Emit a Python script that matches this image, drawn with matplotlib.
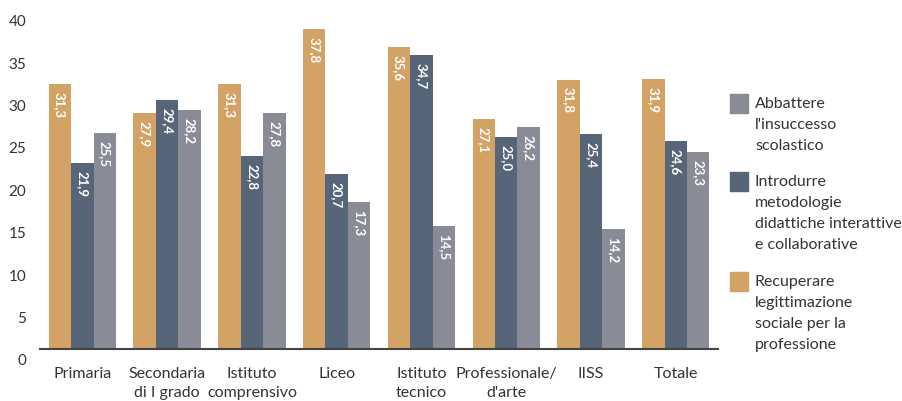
import matplotlib.pyplot as plt
import matplotlib.transforms as mtransforms
from matplotlib.patches import Rectangle
import numpy as np

plt.rcParams['font.family'] = ['Lato', 'DejaVu Sans']

categories = ["Primaria", "Secondaria\ndi I grado", "Istituto\ncomprensivo", "Liceo",
              "Istituto\ntecnico", "Professionale/\nd'arte", "IISS", "Totale"]
recuperare = [31.3, 27.9, 31.3, 37.8, 35.6, 27.1, 31.8, 31.9]
introdurre = [21.9, 29.4, 22.8, 20.7, 34.7, 25.0, 25.4, 24.6]
abbattere = [25.5, 28.2, 27.8, 17.3, 14.5, 26.2, 14.2, 23.3]

series_labels = ["Recuperare\nlegittimazione\nsociale per la\nprofessione",
                 "Introdurre\nmetodologie\ndidattiche interattive\ne collaborative",
                 "Abbattere\nl'insuccesso\nscolastico"]
colors = ["#D3A366", "#576578", "#898B96"]
yticks = [0, 5, 10, 15, 20, 25, 30, 35, 40]

fig = plt.figure(figsize=(9.03, 4.02), dpi=100)
ax = fig.add_axes([0.0443, 0.129, 0.751, 0.8436])

x = np.arange(len(categories))
w = 0.265
series = [recuperare, introdurre, abbattere]
for i, (vals, col) in enumerate(zip(series, colors)):
    pos = x + (i - 1) * w
    bars = ax.bar(pos, vals, width=w, color=col, zorder=2)
    for b, v in zip(bars, vals):
        ax.annotate(f"{v:.1f}".replace('.', ','),
                    xy=(b.get_x() + b.get_width() / 2, v),
                    xytext=(0, -5), textcoords='offset points',
                    rotation=-90, ha='center', va='top',
                    color='white', fontsize=9.5, fontweight='bold', zorder=3)

ax.set_xlim(-0.5, 7.5)
ax.set_ylim(0, 40)
ax.set_yticks(yticks)
ax.set_yticklabels([str(t) for t in yticks])
ax.set_xticks(x)
ax.set_xticklabels(categories, fontsize=11.5, color='#333333', linespacing=1.45)
ax.tick_params(axis='both', length=0)
ax.tick_params(axis='y', labelsize=11, labelcolor='#333333', pad=10)
ax.tick_params(axis='x', pad=12)

# nudge the y labels down a little
offset = mtransforms.ScaledTranslation(0, -7 / 72, fig.dpi_scale_trans)
for lab in ax.get_yticklabels():
    lab.set_transform(lab.get_transform() + offset)

for s in ['top', 'right', 'left']:
    ax.spines[s].set_visible(False)
ax.spines['bottom'].set_color('#444444')
ax.spines['bottom'].set_linewidth(1.5)

# legend drawn by hand: patch next to first line of each entry
legend_entries = [(series_labels[2], colors[2], 95),
                  (series_labels[1], colors[1], 173),
                  (series_labels[0], colors[0], 273)]
H = 402.0
W = 903.0
for text, col, ytop in legend_entries:
    fig.patches.append(Rectangle((730 / W, 1 - (ytop + 19) / H), 18 / W, 19 / H,
                                 transform=fig.transFigure, color=col))
    fig.text(755 / W, 1 - (ytop + 2) / H, text, ha='left', va='top',
             fontsize=11.5, color='#333333', linespacing=1.65)

fig.savefig('out.png', dpi=100)
